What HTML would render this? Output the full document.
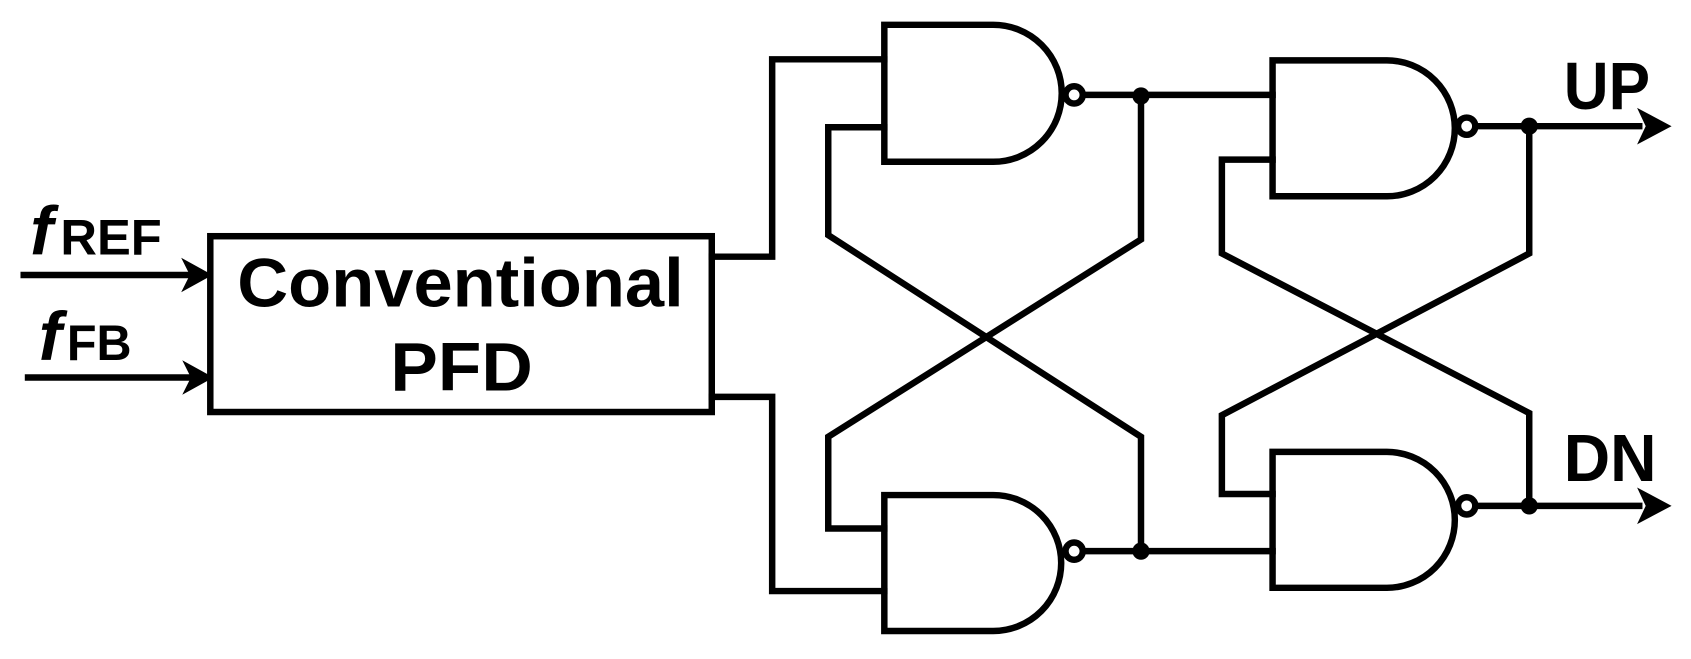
<!DOCTYPE html>
<html><head><style>
html,body{margin:0;padding:0;background:#fff;}
svg{display:block;}
text{font-family:"Liberation Sans",sans-serif;font-weight:bold;fill:#000;}
</style></head><body>
<svg width="1691" height="659" viewBox="0 0 1568 611" preserveAspectRatio="none" xmlns="http://www.w3.org/2000/svg">
<g fill="none" stroke="#000" stroke-width="6" stroke-linejoin="miter" stroke-linecap="square">
<rect x="195" y="219" width="465" height="163"/>
<line x1="22" y1="255" x2="175" y2="255"/>
<line x1="26" y1="350" x2="177" y2="350"/>
<polyline points="660,238 716,238 716,55 820,55"/>
<polyline points="660,368 716,368 716,548 820,548"/>
<path d="M820,23 H921 A63.5,63.5 0 0 1 921,150 H820 Z"/>
<path d="M820,459 H921 A63,63 0 0 1 921,585 H820 Z"/>
<path d="M1180,56 H1286 A63,63 0 0 1 1286,182 H1180 Z"/>
<path d="M1180,419 H1286 A63,63 0 0 1 1286,545 H1180 Z"/>
<circle cx="996" cy="88" r="8"/>
<circle cx="996" cy="511" r="8"/>
<circle cx="1360" cy="117" r="8"/>
<circle cx="1360" cy="469" r="8"/>
<line x1="1004" y1="88" x2="1180" y2="88"/>
<line x1="1004" y1="511" x2="1180" y2="511"/>
<polyline points="820,118 768,118 768,218 1058,405 1058,511"/>
<polyline points="1058,88 1058,222 768,405 768,490 820,490"/>
<polyline points="1180,148 1133,148 1133,235 1418,383 1418,469"/>
<polyline points="1418,117 1418,235 1133,385 1133,458 1180,458"/>
<line x1="1368" y1="117" x2="1520" y2="117"/>
<line x1="1368" y1="469" x2="1520" y2="469"/>
</g>
<g fill="#000">
<polygon points="197,255 168,239 176,255 168,271"/>
<polygon points="198,350 169,334 177,350 169,366"/>
<polygon points="1550,117 1518,100 1526,117 1518,134"/>
<polygon points="1550,469 1518,452 1526,469 1518,486"/>
<circle cx="1058" cy="89" r="8"/>
<circle cx="1058" cy="511" r="8"/>
<circle cx="1418" cy="117" r="8"/>
<circle cx="1418" cy="469" r="8"/>
</g>
<text x="28" y="236" font-size="64" font-style="italic">f</text>
<text x="56" y="236" font-size="46" textLength="94" lengthAdjust="spacingAndGlyphs">REF</text>
<text x="36" y="334" font-size="64" font-style="italic">f</text>
<text x="62" y="334" font-size="46" textLength="60" lengthAdjust="spacingAndGlyphs">FB</text>
<text x="220" y="284" font-size="64" textLength="414" lengthAdjust="spacingAndGlyphs">Conventional</text>
<text x="362" y="362" font-size="64" textLength="132" lengthAdjust="spacingAndGlyphs">PFD</text>
<text x="1450" y="101" font-size="62" textLength="80" lengthAdjust="spacingAndGlyphs">UP</text>
<text x="1450" y="446" font-size="62" textLength="86" lengthAdjust="spacingAndGlyphs">DN</text>
</svg>
</body></html>
